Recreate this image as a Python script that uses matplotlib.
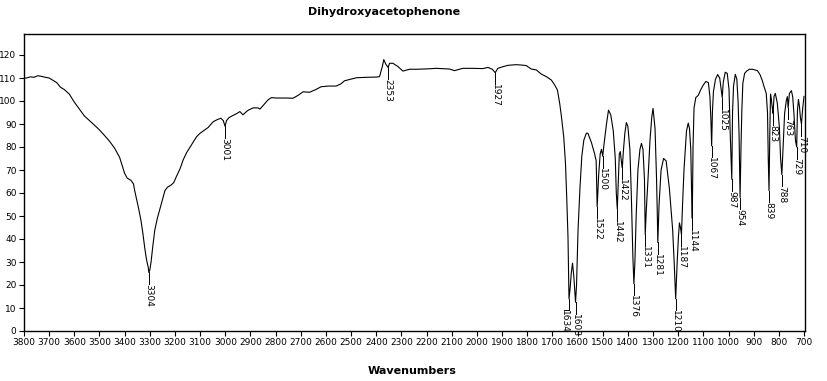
import numpy as np
import matplotlib
matplotlib.use('Agg')
import matplotlib.pyplot as plt

# spectrum (wavenumber, %T)
wn_hi = [3800, 3790, 3775, 3760, 3745, 3730, 3715, 3700, 3685, 3670, 3655, 3640,
         3620, 3600, 3580, 3560, 3540, 3520, 3500, 3480, 3460, 3440, 3420, 3410,
         3400, 3390, 3375, 3365, 3360, 3352, 3344, 3335, 3327, 3320, 3313, 3306,
         3304, 3300, 3295, 3288, 3280, 3270, 3260, 3250, 3240, 3230, 3215, 3205,
         3195, 3180, 3167, 3154, 3134, 3114, 3100, 3087, 3068, 3048, 3030, 3018,
         3008, 3001, 2995, 2985, 2968, 2955, 2942, 2930, 2920, 2909, 2889, 2870,
         2862, 2850, 2842, 2830, 2816, 2800, 2783]
t_hi = [110, 110, 110.5, 110.3, 111, 110.7, 110.3, 110, 109, 108, 106, 105,
        103, 99.5, 96.5, 93.5, 91.5, 89.5, 87.4, 85, 82.5, 79.5, 75.5, 72,
        68.5, 66.5, 65.5, 64, 61, 57, 53, 48, 42, 36, 31, 27.5,
        25.5, 26.5, 30, 37, 44, 49, 53, 57, 61, 62.5, 63.5, 64.5,
        67, 70.5, 74.5, 77.5, 81, 84.5, 86, 87, 88.5, 91, 92, 92.5,
        91.5, 89, 91.5, 92.8, 93.8, 94.5, 95.4, 94, 95, 96, 97, 97,
        96.5, 98, 99, 100.5, 101.5, 101.3, 101.3]

wn_mid = [2760, 2731, 2710, 2691, 2665, 2640, 2619, 2590, 2559, 2540, 2526, 2500,
          2479, 2440, 2400, 2387, 2376, 2370, 2362, 2353, 2347, 2334, 2314, 2294,
          2268, 2240, 2215, 2190, 2162, 2130, 2109, 2089, 2056, 2020, 1976, 1956,
          1939, 1927, 1917, 1897, 1877, 1844, 1820, 1804, 1784, 1764, 1744, 1724,
          1704, 1691, 1680, 1671, 1664, 1655, 1648, 1643, 1638, 1636]
t_mid = [101.3, 101.2, 102.5, 104, 103.8, 105, 106.2, 106.5, 106.5, 107.5, 108.8, 109.5,
         110.1, 110.3, 110.4, 110.6, 114.9, 118, 116, 114.6, 116.4, 116.4, 115, 113,
         113.8, 113.8, 113.9, 114, 114.2, 114, 113.9, 113.2, 114.2, 114.2, 114.1, 114.6,
         113.8, 112.3, 114.2, 114.9, 115.5, 115.8, 115.6, 115.4, 113.9, 113.5, 111.7, 110.6,
         109.1, 107, 104.8, 99, 93.2, 84.5, 73, 58, 41, 28]

wn_fp = [1634, 1630, 1625, 1620, 1615, 1611, 1608, 1604, 1598, 1590, 1583, 1575,
         1565, 1559, 1545, 1532, 1526, 1522, 1516, 1510, 1505, 1500, 1495, 1485,
         1477, 1468, 1458, 1450, 1446, 1442, 1438, 1434, 1430, 1425, 1422, 1418,
         1412, 1406, 1400, 1392, 1386, 1380, 1376, 1372, 1367, 1360, 1352, 1346,
         1340, 1334, 1331, 1327, 1320, 1312, 1305, 1300, 1292, 1286, 1283, 1281,
         1276, 1268, 1258, 1248, 1235, 1222, 1216, 1210, 1204, 1199, 1195, 1191,
         1187, 1183, 1177, 1167, 1160, 1155, 1150, 1147, 1144, 1141, 1137, 1130,
         1120, 1110, 1100, 1090, 1080, 1074, 1070, 1067, 1064, 1060, 1052, 1043,
         1035, 1029, 1025, 1021, 1013, 1005, 998, 993, 987, 984, 980, 973,
         967, 962, 958, 954, 950, 947, 943, 936, 928, 917, 905, 895,
         885, 875, 866, 858, 850, 845, 842, 839, 836, 833, 830, 826,
         823, 819, 814, 806, 798, 793, 788, 783, 777, 770, 766, 763,
         758, 750, 745, 740, 734, 729, 726, 722, 718, 714, 710, 705, 700]
t_fp = [14, 18, 25, 29.5, 24, 17, 12.5, 20, 44, 63, 76, 83,
        86, 86, 82, 77, 74, 54, 68, 77, 79, 76, 81, 90,
        96, 94, 87, 75, 60, 53, 65, 77, 78, 73, 71, 78,
        86, 90.6, 89, 79, 58, 32, 20.5, 30, 50, 70, 79, 81.6,
        79, 66, 42, 52, 66, 83, 93, 96.8, 88, 66, 51, 38.5,
        55, 70, 75, 74, 62, 44, 30, 14, 30, 41, 47, 45,
        42, 54, 70, 87, 90.4, 88, 79, 62, 49, 80, 97, 101.5,
        102.5, 105, 107, 108.5, 108, 102, 92, 80.5, 95, 104, 109.4, 111.5,
        110, 105, 101.5, 108, 112.5, 112, 105, 85, 66, 95, 106.5, 111.6,
        109.5, 100, 85, 58, 82, 96, 107.7, 112, 113, 113.8, 113.8, 113.5,
        113.2, 111.5, 109, 106, 103.3, 95, 75, 61, 85, 103, 101, 97,
        94.6, 102, 103.3, 99, 88.8, 75, 68, 80, 94.6, 100.4, 101.9, 97,
        103.3, 104.5, 101.9, 94.6, 83, 80, 96, 100.7, 97.5, 92.5, 90, 97, 102]

wavenumber = np.array(wn_hi + wn_mid + wn_fp)
transmittance = np.array(t_hi + t_mid + t_fp)

# picked peaks
peaks = [3304, 3001, 2353, 1927, 1634, 1608, 1522, 1500, 1442, 1422, 1376,
         1331, 1281, 1210, 1187, 1144, 1067, 1025, 987, 954, 839, 823, 788,
         763, 729, 710]
label_shift = {1634: 18}   # 1634 label is pushed left of its peak

title = 'Dihydroxyacetophenone'
xlabel = 'Wavenumbers'

plt.rcParams['font.family'] = ['Liberation Sans Narrow', 'DejaVu Sans']

fig = plt.figure(figsize=(8.27, 3.81), dpi=100)
ax = fig.add_axes([23.5 / 827, 50 / 381, 781.5 / 827, 296.7 / 381])

ax.plot(wavenumber, transmittance, color='black', lw=0.8)

ax.set_xlim(3802, 696)
ax.set_ylim(0, 129)
ax.set_xticks(np.arange(3800, 699, -100))
ax.set_yticks(np.arange(0, 121, 10))
ax.tick_params(direction='out', length=3.5, width=0.8, labelsize=6.5, pad=1.5,
               colors='black')
for s in ax.spines.values():
    s.set_linewidth(1.0)
    s.set_color('black')

# peak markers: short drop line then vertical label
gap = 5
for p in peaks:
    y = np.interp(p, wavenumber[::-1], transmittance[::-1])
    tx = p + label_shift.get(p, 0)
    ax.plot([p, p], [y, y - gap], color='black', lw=0.7)
    if tx != p:
        ax.plot([p, tx], [y - gap, y - gap], color='black', lw=0.7)
    ax.text(tx, y - gap, str(p), rotation=270, ha='center', va='top',
            fontsize=6.5)

fig.text(384 / 827, 1 - 12 / 381, title, ha='center', va='center',
         fontsize=8, fontweight='bold', family='DejaVu Sans')
fig.text(411.7 / 827, 1 - 371 / 381, xlabel, ha='center', va='center',
         fontsize=8, fontweight='bold', family='DejaVu Sans')

fig.savefig('out.png', dpi=100)
